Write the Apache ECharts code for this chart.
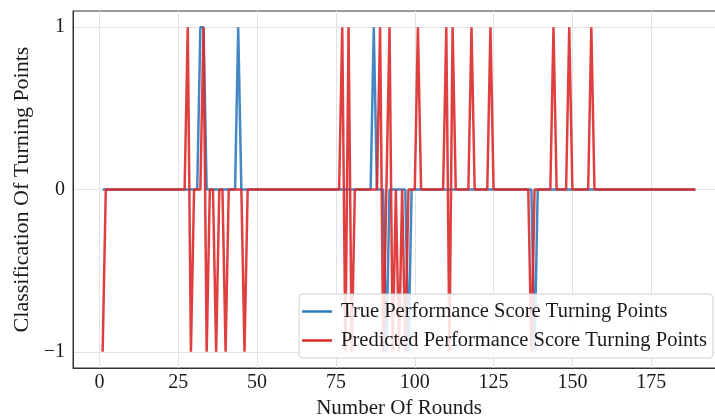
<!DOCTYPE html>
<html>
<head>
<meta charset="utf-8">
<script src="https://cdn.jsdelivr.net/npm/echarts@6/dist/echarts.min.js"></script>
<style>
  html, body { margin: 0; padding: 0; background: #fff; }
  #chart { width: 715px; height: 416px; }
</style>
</head>
<body>
<div id="chart"></div>
<script>
// rounds 1..189
var rounds = [];
for (var r = 1; r <= 189; r++) rounds.push(r);

// true turning points (round 1..189)
var trueValues = [
  0, 0, 0, 0, 0, 0, 0, 0, 0, 0, 0, 0, 0, 0, 0, 0, 0, 0, 0, 0,
  0, 0, 0, 0, 0, 0, 0, 0, 0, 0, 0, 1, 1, 0, 0, 0, 0, 0, 0, 0,
  0, 0, 0, 1, 0, 0, 0, 0, 0, 0, 0, 0, 0, 0, 0, 0, 0, 0, 0, 0,
  0, 0, 0, 0, 0, 0, 0, 0, 0, 0, 0, 0, 0, 0, 0, 0, 0, 0, 0, 0,
  0, 0, 0, 0, 0, 0, 1, 0, 0, 0, -1, 0, 0, 0, 0, 0, 0, -1, 0, 0,
  0, 0, 0, 0, 0, 0, 0, 0, 0, 0, 0, 0, 0, 0, 0, 0, 0, 0, 0, 0,
  0, 0, 0, 0, 0, 0, 0, 0, 0, 0, 0, 0, 0, 0, 0, 0, 0, -1, 0, 0,
  0, 0, 0, 0, 0, 0, 0, 0, 0, 0, 0, 0, 0, 0, 0, 0, 0, 0, 0, 0,
  0, 0, 0, 0, 0, 0, 0, 0, 0, 0, 0, 0, 0, 0, 0, 0, 0, 0, 0, 0,
  0, 0, 0, 0, 0, 0, 0, 0, 0
];

// predicted turning points
var predValues = [
  -1, 0, 0, 0, 0, 0, 0, 0, 0, 0, 0, 0, 0, 0, 0, 0, 0, 0, 0, 0,
  0, 0, 0, 0, 0, 0, 0, 1, -1, 0, 0, 0, 1, -1, 0, 0, -1, 0, 0, -1,
  0, 0, 0, 0, 0, -1, 0, 0, 0, 0, 0, 0, 0, 0, 0, 0, 0, 0, 0, 0,
  0, 0, 0, 0, 0, 0, 0, 0, 0, 0, 0, 0, 0, 0, 0, 0, 1, -1, 1, -1,
  0, 0, 0, 0, 0, 0, 0, 0, 1, -1, 0, 1, -1, 0, -1, 0, -1, 0, 0, 0,
  1, 0, 0, 0, 0, 0, 0, 0, 0, 1, -1, 1, 0, 0, 0, 0, 0, 1, 0, 0,
  0, 0, 0, 1, 0, 0, 0, 0, 0, 0, 0, 0, 0, 0, 0, 0, -1, 0, 0, 0,
  0, 0, 0, 1, 0, 0, 0, 0, 1, 0, 0, 0, 0, 0, 0, 1, 0, 0, 0, 0,
  0, 0, 0, 0, 0, 0, 0, 0, 0, 0, 0, 0, 0, 0, 0, 0, 0, 0, 0, 0,
  0, 0, 0, 0, 0, 0, 0, 0, 0
];

var xTicks = [0, 25, 50, 75, 100, 125, 150, 175];
var yTicks = [-1, 0, 1];

function pairs(vals) {
  return rounds.map(function (r, i) { return [r, vals[i]]; });
}

var serif = 'Liberation Serif';
var chart = echarts.init(document.getElementById('chart'));

var option = {
  animation: false,
  backgroundColor: '#fff',
  grid: {
    left: 73, right: -10, top: 11, bottom: 48,
    outerBoundsMode: 'none',
    containLabel: false,
    show: true, borderColor: '#333', borderWidth: 1
  },
  legend: {
    orient: 'vertical',
    right: 2,
    bottom: 58,
    icon: 'rect',
    itemWidth: 30,
    itemHeight: 2.5,
    itemGap: 8,
    padding: [7, 6, 7, 3],
    backgroundColor: 'rgba(255,255,255,0.85)',
    borderColor: '#d0d0d0',
    borderWidth: 1,
    borderRadius: 4,
    textStyle: { fontFamily: serif, fontSize: 20.5, color: '#1a1a1a', padding: [0, 0, 0, 4] },
    data: ['True Performance Score Turning Points', 'Predicted Performance Score Turning Points']
  },
  xAxis: {
    type: 'value',
    min: -8.4,
    max: 198.4,
    name: 'Number Of Rounds',
    nameLocation: 'middle',
    nameGap: 27,
    nameTextStyle: { fontFamily: serif, fontSize: 21, color: '#1a1a1a' },
    axisLine: { show: true, onZero: false, lineStyle: { color: '#333', width: 1 } },
    axisTick: { show: false, customValues: xTicks },
    axisLabel: { customValues: xTicks, fontFamily: serif, fontSize: 20, color: '#1a1a1a', margin: 5 },
    splitLine: { show: true, lineStyle: { color: '#e3e3e3', width: 1 } }
  },
  yAxis: {
    type: 'value',
    min: -1.1,
    max: 1.1,
    name: 'Classification Of Turning Points',
    nameLocation: 'middle',
    nameGap: 40,
    nameTextStyle: { fontFamily: serif, fontSize: 22, color: '#1a1a1a' },
    axisLine: { show: true, onZero: false, lineStyle: { color: '#333', width: 1 } },
    axisTick: { show: false, customValues: yTicks },
    axisLabel: {
      customValues: yTicks, fontFamily: serif, fontSize: 20, color: '#1a1a1a', margin: 8,
      formatter: function (v) { return v < 0 ? '\u2212' + Math.abs(v) : String(v); }
    },
    splitLine: { show: true, lineStyle: { color: '#e3e3e3', width: 1 } }
  },
  series: [
    {
      name: 'True Performance Score Turning Points',
      type: 'line',
      data: pairs(trueValues),
      showSymbol: false,
      color: '#2f7bbf',
      lineStyle: { width: 2.5, opacity: 0.9 }
    },
    {
      name: 'Predicted Performance Score Turning Points',
      type: 'line',
      data: pairs(predValues),
      showSymbol: false,
      color: '#dc2a2a',
      lineStyle: { width: 2.5, opacity: 0.9 }
    }
  ]
};

chart.setOption(option);
</script>
</body>
</html>
